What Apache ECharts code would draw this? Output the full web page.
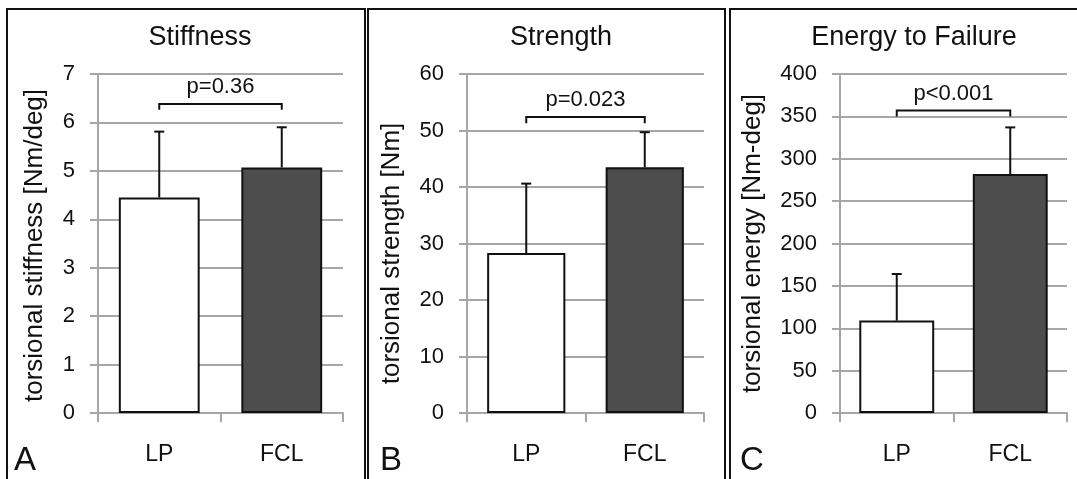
<!DOCTYPE html>
<html>
<head>
<meta charset="utf-8">
<script src="https://cdn.jsdelivr.net/npm/echarts@6/dist/echarts.min.js"></script>
<style>
html,body{margin:0;padding:0;background:#fff;}
#chart{width:1077px;height:479px;}
</style>
</head>
<body>
<div id="chart"></div>
<script>
// ---- data ----
const categories = ['LP', 'FCL'];
const titles = ['Stiffness', 'Strength', 'Energy to Failure'];
const yNames = ['torsional stiffness [Nm/deg]', 'torsional strength [Nm]', 'torsional energy [Nm-deg]'];
const panelLetters = ['A', 'B', 'C'];
const stiffnessMean = [4.45, 5.07];
const stiffnessUpper = [5.81, 5.90];
const strengthMean = [28.3, 43.5];
const strengthUpper = [40.6, 49.7];
const energyMean = [109, 282];
const energyUpper = [164, 337];
const pLabels = ['p=0.36', 'p=0.023', 'p<0.001'];
const bracketTop = [6.38, 52.4, 357];
const bracketFoot = [6.26, 51.3, 350];
const yMax = [7, 60, 400];
const yInterval = [1, 10, 50];

const means = [stiffnessMean, strengthMean, energyMean];
const uppers = [stiffnessUpper, strengthUpper, energyUpper];

// ---- layout ----
const grids = [
  {left: 98, top: 74, width: 245, height: 339},
  {left: 467, top: 74, width: 237, height: 339},
  {left: 840, top: 74, width: 227, height: 339}
];
const titleX = [200, 561, 914];
const nameGaps = [50, 62, 74];
const namePad = [[0, 4, 0, 0], [0, 20, 0, 0], [0, 0, 0, 0]];
const FONT = '"Liberation Sans", Arial, sans-serif';
const GRID_COLOR = '#a6a6a6';

const option = {
  animation: false,
  backgroundColor: '#fff',
  title: titles.map((t, i) => ({
    text: t, left: titleX[i], top: 24, textAlign: 'center', padding: 0,
    textStyle: {fontFamily: FONT, fontSize: 27, fontWeight: 'normal', color: '#111'}
  })),
  grid: grids.map(g => Object.assign({containLabel: false}, g)),
  xAxis: grids.map((g, i) => ({
    type: 'category', gridIndex: i, data: categories,
    axisLine: {lineStyle: {color: GRID_COLOR, width: 2}},
    axisTick: {show: true, length: 9, lineStyle: {color: GRID_COLOR, width: 2}},
    axisLabel: {margin: 30, fontFamily: FONT, fontSize: 23, color: '#111'},
    splitLine: {show: false}
  })),
  yAxis: grids.map((g, i) => ({
    type: 'value', gridIndex: i, min: 0, max: yMax[i], interval: yInterval[i],
    name: yNames[i], nameLocation: 'middle', nameGap: nameGaps[i],
    nameTextStyle: {fontFamily: FONT, fontSize: 26, color: '#111', padding: namePad[i]},
    axisLine: {show: true, lineStyle: {color: GRID_COLOR, width: 2}},
    axisTick: {show: true, length: 8, lineStyle: {color: GRID_COLOR, width: 2}},
    axisLabel: {margin: 23, fontFamily: FONT, fontSize: 22, color: '#111'},
    splitLine: {show: true, lineStyle: {color: GRID_COLOR, width: 2}}
  })),
  series: [],
  graphic: []
};

for (let i = 0; i < 3; i++) {
  option.series.push({
    type: 'bar', xAxisIndex: i, yAxisIndex: i, barWidth: '66%',
    data: means[i].map((v, k) => ({
      value: v,
      itemStyle: {color: k === 0 ? '#ffffff' : '#4d4d4d', borderColor: '#111', borderWidth: 2}
    })),
    z: 3
  });
  option.series.push({
    type: 'custom', xAxisIndex: i, yAxisIndex: i, z: 4,
    data: means[i].map((v, k) => [k, v, uppers[i][k]]),
    renderItem: function (params, api) {
      const a = api.coord([api.value(0), api.value(1)]);
      const b = api.coord([api.value(0), api.value(2)]);
      return {
        type: 'group',
        children: [
          {type: 'line', shape: {x1: a[0], y1: a[1], x2: b[0], y2: b[1]}, style: {stroke: '#111', lineWidth: 2}},
          {type: 'line', shape: {x1: b[0] - 5, y1: b[1], x2: b[0] + 5, y2: b[1]}, style: {stroke: '#111', lineWidth: 2}}
        ]
      };
    }
  });
  option.series.push({
    type: 'custom', xAxisIndex: i, yAxisIndex: i, z: 5,
    data: [[bracketTop[i], bracketFoot[i]]],
    renderItem: (function (idx) {
      return function (params, api) {
        const top = api.value(0), foot = api.value(1);
        const p0 = api.coord([0, foot]);
        const p1 = api.coord([0, top]);
        const p2 = api.coord([1, top]);
        const p3 = api.coord([1, foot]);
        return {
          type: 'group',
          children: [
            {type: 'polyline', shape: {points: [p0, p1, p2, p3]}, style: {stroke: '#111', lineWidth: 2, fill: null}},
            {type: 'text', style: {text: pLabels[idx], x: (p1[0] + p2[0]) / 2, y: p1[1] - 17,
              textAlign: 'center', textVerticalAlign: 'middle', font: '22px ' + FONT, fill: '#111'}}
          ]
        };
      };
    })(i)
  });
}

// panel borders and letters
const borderX = [7, 368, 730];
const borderW = [358, 357, 400];
const letterX = [14, 380, 740];
for (let i = 0; i < 3; i++) {
  option.graphic.push({
    type: 'rect', shape: {x: borderX[i], y: 9, width: borderW[i], height: 520},
    style: {stroke: '#111', lineWidth: 2, fill: null}, silent: true, z: 10
  });
  option.graphic.push({
    type: 'text', x: letterX[i], y: 461,
    style: {text: panelLetters[i], font: '33px ' + FONT, fill: '#111', textAlign: 'left', textVerticalAlign: 'middle'},
    z: 10
  });
}

const chart = echarts.init(document.getElementById('chart'), null, {renderer: 'canvas'});
chart.setOption(option);
</script>
</body>
</html>
